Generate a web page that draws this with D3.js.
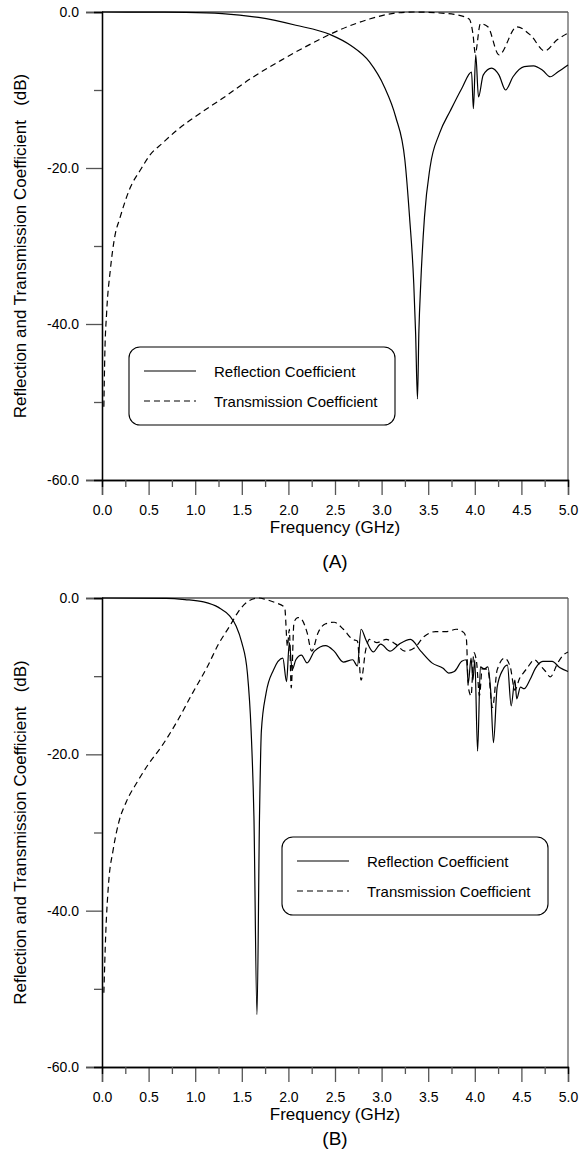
<!DOCTYPE html>
<html>
<head>
<meta charset="utf-8">
<script src="https://cdn.jsdelivr.net/npm/d3@7"></script>
<style>
  body { margin: 0; background: #fff; }
  text { font-family: "Liberation Sans", Arial, sans-serif; fill: #000; }
</style>
</head>
<body>
<svg id="canvas"></svg>
<script>
// chart (A) - reflection
let freqReflA = [0, 0.5, 0.9, 1.29, 1.68, 2.08, 2.45, 2.67, 2.87, 3.03, 3.15, 3.25, 3.30, 3.345, 3.365, 3.385, 3.40, 3.42, 3.46, 3.52, 3.62, 3.74, 3.86, 3.965, 3.985, 4.01, 4.04, 4.09, 4.18, 4.26, 4.33, 4.41, 4.53, 4.63, 4.73, 4.81, 4.89, 5.0];
let dbReflA = [0, -0.02, -0.05, -0.2, -0.7, -1.7, -2.9, -4.3, -6.4, -9.6, -13.4, -19, -26.3, -34.8, -41.2, -49.6, -41, -34.8, -26.3, -19.9, -15.6, -12.6, -9.8, -7.7, -12.4, -5.5, -10.9, -8.1, -7.2, -8.1, -10, -8.3, -7.0, -6.9, -7.5, -8.3, -7.7, -6.8];

// chart (A) - transmission
let freqTransA = [0.02, 0.03, 0.05, 0.09, 0.14, 0.19, 0.30, 0.42, 0.51, 0.65, 0.80, 1.05, 1.29, 1.60, 1.92, 2.24, 2.55, 2.87, 3.11, 3.35, 3.58, 3.78, 3.94, 3.98, 4.005, 4.06, 4.14, 4.26, 4.45, 4.60, 4.75, 4.88, 5.0];
let dbTransA = [-50.6, -44, -38.5, -33, -28.6, -26.5, -22.6, -20.1, -18.4, -16.8, -15.2, -13.0, -11.1, -8.5, -6.2, -4.1, -2.3, -0.9, -0.2, 0, -0.1, -0.3, -0.9, -2.8, -5.3, -1.5, -1.9, -5.5, -1.9, -3.0, -5.0, -3.6, -2.7];

// chart (B) - reflection
let freqReflB = [0, 0.69, 0.89, 1.09, 1.25, 1.37, 1.44, 1.50, 1.56, 1.60, 1.63, 1.663, 1.69, 1.71, 1.76, 1.84, 1.94, 1.98, 2.01, 2.04, 2.08, 2.14, 2.20, 2.28, 2.40, 2.49, 2.59, 2.69, 2.74, 2.78, 2.83, 2.91, 2.99, 3.09, 3.19, 3.31, 3.42, 3.54, 3.66, 3.72, 3.78, 3.86, 3.91, 3.93, 3.96, 3.98, 4.00, 4.03, 4.06, 4.10, 4.14, 4.17, 4.20, 4.24, 4.30, 4.35, 4.39, 4.43, 4.45, 4.49, 4.53, 4.59, 4.65, 4.73, 4.83, 4.91, 5.0];
let dbReflB = [0, -0.05, -0.2, -0.5, -1.2, -2.3, -3.6, -5.7, -9.6, -17, -27.9, -53.3, -27.9, -17, -12.2, -9.2, -7.7, -10.7, -5.7, -9.2, -7.9, -7.3, -8.3, -6.8, -6.1, -6.8, -8.2, -7.9, -8.7, -4.0, -5.3, -6.9, -5.9, -6.8, -5.9, -5.3, -6.8, -8.3, -9.0, -9.6, -9.4, -8.1, -7.9, -10.9, -7.7, -10.5, -7.9, -19.6, -8.8, -9.1, -8.8, -11.8, -18.5, -11.4, -9.2, -8.6, -13.8, -10.5, -12.9, -11.4, -11.6, -10.5, -9.0, -8.1, -8.1, -8.9, -9.4];

// chart (B) - transmission
let freqTransB = [0.02, 0.04, 0.07, 0.12, 0.18, 0.26, 0.38, 0.49, 0.65, 0.81, 0.97, 1.13, 1.25, 1.37, 1.46, 1.56, 1.68, 1.76, 1.86, 1.96, 1.99, 2.01, 2.03, 2.06, 2.10, 2.14, 2.20, 2.25, 2.32, 2.40, 2.49, 2.59, 2.69, 2.74, 2.78, 2.83, 2.87, 2.95, 3.05, 3.15, 3.25, 3.35, 3.46, 3.58, 3.70, 3.80, 3.88, 3.91, 3.93, 3.96, 3.99, 4.02, 4.05, 4.08, 4.14, 4.19, 4.24, 4.32, 4.38, 4.43, 4.48, 4.52, 4.56, 4.64, 4.70, 4.76, 4.81, 4.89, 4.95, 5.0];
let dbTransB = [-50.5, -43, -36.6, -32.2, -28.7, -26.1, -23.5, -21.4, -18.8, -15.7, -12.2, -8.8, -5.9, -3.6, -1.8, -0.5, 0, -0.2, -0.6, -1.2, -6.2, -4.0, -11.5, -3.1, -2.5, -2.7, -4.4, -6.8, -4.4, -3.3, -3.1, -4.0, -5.3, -5.5, -10.5, -6.6, -5.3, -5.7, -5.3, -5.9, -6.8, -6.4, -4.9, -4.3, -4.3, -4.0, -4.4, -5.3, -11.4, -12.5, -7.0, -8.3, -12.5, -9.0, -9.2, -14.0, -9.2, -7.7, -8.8, -11.8, -10.3, -9.6, -9.0, -7.9, -8.6, -9.4, -10.1, -8.3, -7.3, -6.9];

let xTicks = [0, 0.5, 1.0, 1.5, 2.0, 2.5, 3.0, 3.5, 4.0, 4.5, 5.0];
let xMinorTicks = [0.25, 0.75, 1.25, 1.75, 2.25, 2.75, 3.25, 3.75, 4.25, 4.75];
let yTicks = [0, -20, -40, -60];
let yMinorTicks = [-10, -30, -50];
let legendNames = ['Reflection Coefficient', 'Transmission Coefficient'];

let width = 579;
let height = 1158;
let left = 102;
let right = 568;

let canvas = d3.select('#canvas')
    .attr('width', width)
    .attr('height', height);

let zip = (fs, vs) => fs.map((f, i) => ({ f: f, v: vs[i] }));
let fmt = (d) => d.toFixed(1);

let drawChart = (cfg) => {
    let g = canvas.append('g');

    let xScale = d3.scaleLinear().domain([0, 5]).range([left, right]);
    let yScale = d3.scaleLinear().domain([-60, 0]).range([cfg.bottom, cfg.top]);

    // frame: top and right sides
    g.append('line')
     .attr('x1', left).attr('x2', right)
     .attr('y1', cfg.top).attr('y2', cfg.top)
     .attr('stroke', '#000').attr('stroke-width', 1.2);
    g.append('line')
     .attr('x1', right).attr('x2', right)
     .attr('y1', cfg.top).attr('y2', cfg.bottom)
     .attr('stroke', '#555').attr('stroke-width', 1.2);

    let xAxis = d3.axisBottom(xScale)
                  .tickValues(xTicks)
                  .tickSize(15)
                  .tickPadding(10)
                  .tickFormat(fmt);
    let xMinor = d3.axisBottom(xScale)
                   .tickValues(xMinorTicks)
                   .tickSize(7)
                   .tickFormat('');

    let yAxis = d3.axisLeft(yScale)
                  .tickValues(yTicks)
                  .tickSize(16)
                  .tickPadding(7)
                  .tickFormat(fmt);
    let yMinor = d3.axisLeft(yScale)
                   .tickValues(yMinorTicks)
                   .tickSize(8)
                   .tickFormat('');

    [xAxis, xMinor].forEach((ax) => {
        g.append('g')
         .attr('transform', 'translate(0, ' + cfg.bottom + ')')
         .call(ax);
    });
    [yAxis, yMinor].forEach((ax) => {
        g.append('g')
         .attr('transform', 'translate(' + left + ', 0)')
         .call(ax);
    });

    g.selectAll('.domain').attr('stroke', '#000').attr('stroke-width', 1.3);
    g.selectAll('.tick line').attr('stroke', '#555').attr('stroke-width', 1.3);
    g.selectAll('.tick text')
     .style('font-family', '"Liberation Sans", Arial, sans-serif')
     .style('font-size', '14px')
     .attr('fill', '#000');

    // curves
    let line = d3.line()
                 .x((d) => xScale(d.f))
                 .y((d) => yScale(d.v))
                 .curve(d3.curveMonotoneX);

    g.append('path')
     .datum(zip(cfg.freqRefl, cfg.dbRefl))
     .attr('d', line)
     .attr('fill', 'none')
     .attr('stroke', '#000')
     .attr('stroke-width', 1.2);

    g.append('path')
     .datum(zip(cfg.freqTrans, cfg.dbTrans))
     .attr('d', line)
     .attr('fill', 'none')
     .attr('stroke', '#000')
     .attr('stroke-width', 1.2)
     .attr('stroke-dasharray', '6,4');

    // titles
    g.append('text')
     .attr('x', (left + right) / 2)
     .attr('y', cfg.bottom + 47)
     .attr('text-anchor', 'middle')
     .attr('dominant-baseline', 'central')
     .style('font-size', '17px')
     .text('Frequency (GHz)');

    g.append('text')
     .attr('x', (left + right) / 2)
     .attr('y', cfg.labelY)
     .attr('text-anchor', 'middle')
     .attr('dominant-baseline', 'central')
     .style('font-size', '19px')
     .text(cfg.label);

    g.append('text')
     .attr('transform', 'translate(20, ' + (cfg.top + cfg.bottom) / 2 + ') rotate(-90)')
     .attr('text-anchor', 'middle')
     .attr('dominant-baseline', 'central')
     .style('font-size', '17px')
     .style('white-space', 'pre')
     .text('Reflection and Transmission Coefficient   (dB)');

    // legend
    let lg = g.append('g').attr('transform', 'translate(' + cfg.legendX + ', ' + cfg.legendY + ')');
    lg.append('rect')
      .attr('width', 266).attr('height', 78)
      .attr('rx', 11).attr('ry', 11)
      .attr('fill', '#fff')
      .attr('stroke', '#000')
      .attr('stroke-width', 1.1);
    legendNames.forEach((name, i) => {
        let y = 24 + i * 30;
        lg.append('line')
          .attr('x1', 15).attr('x2', 67)
          .attr('y1', y).attr('y2', y)
          .attr('stroke', '#000')
          .attr('stroke-width', 1.2)
          .attr('stroke-dasharray', i === 1 ? '6,4' : null);
        lg.append('text')
          .attr('x', 85).attr('y', y)
          .attr('dominant-baseline', 'central')
          .style('font-size', '15px')
          .text(name);
    });
}

drawChart({
    top: 12, bottom: 480, label: '(A)', labelY: 561,
    legendX: 129, legendY: 347,
    freqRefl: freqReflA, dbRefl: dbReflA,
    freqTrans: freqTransA, dbTrans: dbTransA
});

drawChart({
    top: 598, bottom: 1067, label: '(B)', labelY: 1138,
    legendX: 282, legendY: 837,
    freqRefl: freqReflB, dbRefl: dbReflB,
    freqTrans: freqTransB, dbTrans: dbTransB
});
</script>
</body>
</html>
